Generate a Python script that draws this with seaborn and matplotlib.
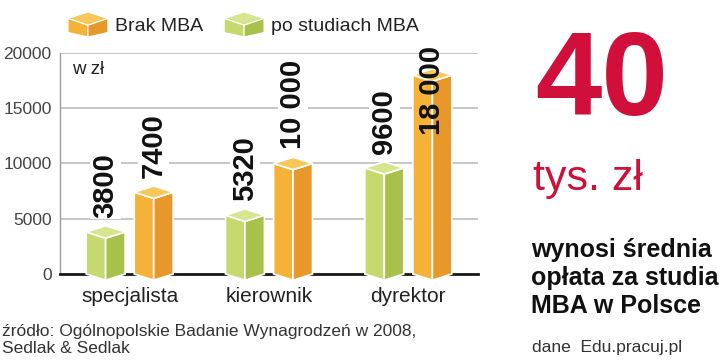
import matplotlib
matplotlib.use("Agg")
import matplotlib.pyplot as plt
import seaborn as sns
import pandas as pd
from matplotlib.patches import Polygon, Patch
from matplotlib.legend_handler import HandlerBase

# dane
stanowiska = ["specjalista", "kierownik", "dyrektor"]
po_mba = [3800, 5320, 9600]
brak_mba = [7400, 10000, 18000]
serie = ["po studiach MBA", "Brak MBA"]
y_ticks = [0, 5000, 10000, 15000, 20000]

# kolory ścian słupka: (lewa, prawa, góra)
kolory = {
    "po studiach MBA": ("#C6D96E", "#A8C14B", "#D7E68E"),
    "Brak MBA": ("#F4B338", "#E8972B", "#F8C75A"),
}

df = pd.DataFrame({
    "stanowisko": stanowiska * 2,
    "seria": [serie[0]] * len(stanowiska) + [serie[1]] * len(stanowiska),
    "wartosc": po_mba + brak_mba,
})

sns.set_style("white")
plt.rcParams["font.family"] = ["Liberation Sans", "DejaVu Sans"]


class Pudelko(HandlerBase):
    """ikonka legendy w postaci płaskiego pudełka"""
    def __init__(self, cols):
        super().__init__()
        self.cols = cols

    def create_artists(self, legend, orig_handle, xdescent, ydescent, width, height, fontsize, trans):
        x0, y0 = -xdescent, -ydescent
        P = lambda fx, fy: (x0 + fx * width, y0 + fy * height)
        lewy, prawy, gora = self.cols
        sciany = [
            ([P(0, .74), P(.5, .47), P(1, .74), P(.5, 1.0)], gora),
            ([P(0, .74), P(.5, .47), P(.5, 0), P(0, .18)], lewy),
            ([P(.5, .47), P(1, .74), P(1, .18), P(.5, 0)], prawy),
        ]
        return [Polygon(p, closed=True, fc=c, ec="white", lw=0.8, transform=trans) for p, c in sciany]


fig = plt.figure(figsize=(7.2, 3.63), dpi=100)
ax = fig.add_axes([60 / 720, 1 - 274 / 363, 418 / 720, 221 / 363])

sns.barplot(data=df, x="stanowisko", y="wartosc", hue="seria", hue_order=serie, order=stanowiska,
            palette={k: v[0] for k, v in kolory.items()}, width=0.69, gap=0.19,
            saturation=1, errorbar=None, legend=False, ax=ax)

ax.set_xlim(-0.5, 2.5)
ax.set_ylim(0, 20000)
d = 560  # "głębokość" efektu 3D

for cont, seria in zip(ax.containers, serie):
    c_lewy, c_prawy, c_gora = kolory[seria]
    for bar in cont:
        x0, w, h = bar.get_x(), bar.get_width(), bar.get_height()
        xc, x1 = x0 + w / 2, x0 + w
        bar.set_visible(False)
        sciany = [
            ([(x0, 0), (xc, -d), (xc, h - d), (x0, h)], c_lewy),
            ([(xc, -d), (x1, 0), (x1, h), (xc, h - d)], c_prawy),
            ([(x0, h), (xc, h - d), (x1, h), (xc, h + d)], c_gora),
        ]
        for pts, col in sciany:
            ax.add_patch(Polygon(pts, closed=True, fc=col, ec="white", lw=1.2, clip_on=False, zorder=3))
        etykieta = f"{int(h):,}".replace(",", " ") if h >= 10000 else str(int(h))
        pos = min(h + 1300, 12600)
        bb = dict(fc="white", ec="none", pad=1) if pos > h else None
        ax.text(xc, pos, etykieta, rotation=90, ha="center", va="bottom", fontsize=21,
                fontweight="bold", color="#111111", zorder=5, bbox=bb)

# osie
sns.despine(ax=ax, top=True, right=True)
ax.spines["left"].set_color("#9a9a9a")
ax.spines["left"].set_linewidth(1)
ax.spines["bottom"].set_color("#1a1a1a")
ax.spines["bottom"].set_linewidth(2)
ax.yaxis.grid(True, color="#b8b8b8", lw=1.1)
ax.set_axisbelow(True)
ax.set_yticks(y_ticks)
ax.set_yticklabels([str(t) for t in y_ticks])
ax.tick_params(axis="y", length=0, pad=6, labelsize=12.5, labelcolor="#444444")
ax.tick_params(axis="x", length=0, pad=9, labelsize=15, labelcolor="#222222")
ax.set_xlabel("")
ax.set_ylabel("")
ax.text(0.029, 0.962, "w zł", transform=ax.transAxes, va="top", ha="left", fontsize=13.5, color="#222222")

# legenda
h_brak = Patch(label="Brak MBA")
h_po = Patch(label="po studiach MBA")
fig.legend(handles=[h_brak, h_po], handler_map={h_brak: Pudelko(kolory["Brak MBA"]), h_po: Pudelko(kolory["po studiach MBA"])},
           loc="upper left", bbox_to_anchor=(68 / 720, 1 - 12 / 363), ncol=2, frameon=False, fontsize=14,
           handlelength=2.05, handleheight=1.6, handletextpad=0.35, columnspacing=1.1,
           borderpad=0, borderaxespad=0, labelcolor="#222222")

# prawa strona
czerwony = "#D0103A"
fig.text(535 / 720, 1 - 115 / 363, "40", fontsize=86, fontweight="bold", color=czerwony, va="baseline", ha="left")
fig.text(533 / 720, 1 - 190 / 363, "tys. zł", fontsize=31, color=czerwony, va="baseline", ha="left")
# przy tekście wielowierszowym "baseline" dotyczy ostatniej linii
fig.text(531 / 720, 1 - 313 / 363, "wynosi średnia\nopłata za studia\nMBA w Polsce", fontsize=18, fontweight="bold",
         color="#111111", va="baseline", ha="left", linespacing=1.2)
fig.text(532 / 720, 1 - 352 / 363, "dane  Edu.pracuj.pl", fontsize=12.5, color="#333333", va="baseline", ha="left")

# źródło
fig.text(2 / 720, 1 - 353 / 363, "źródło: Ogólnopolskie Badanie Wynagrodzeń w 2008,\nSedlak & Sedlak", fontsize=12.5,
         color="#333333", va="baseline", ha="left", linespacing=1.15)

fig.savefig("out.png", dpi=100)
